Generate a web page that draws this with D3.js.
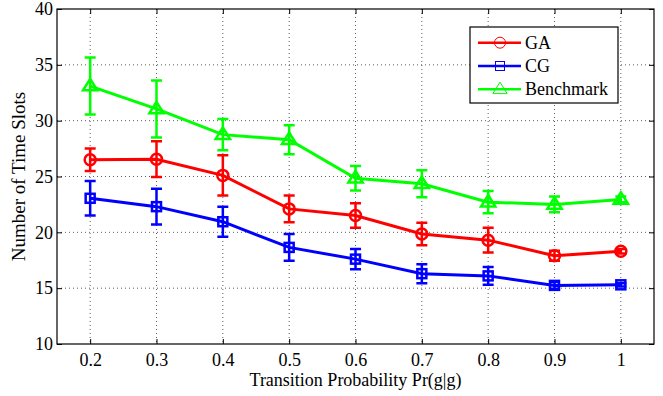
<!DOCTYPE html>
<html>
<head>
<meta charset="utf-8">
<script src="https://cdn.jsdelivr.net/npm/d3@7"></script>
<style>
  body { margin: 0; background: #fff; }
</style>
</head>
<body>
<svg id="mysvg"></svg>
<script>
const probs = [0.2, 0.3, 0.4, 0.5, 0.6, 0.7, 0.8, 0.9, 1.0];
const gaMean = [26.5, 26.55, 25.1, 22.1, 21.5, 19.85, 19.3, 17.9, 18.3];
const gaErr = [1.0, 1.6, 1.8, 1.2, 1.1, 1.0, 1.1, 0.45, 0.2];
const cgMean = [23.05, 22.3, 20.95, 18.65, 17.6, 16.3, 16.1, 15.25, 15.3];
const cgErr = [1.55, 1.6, 1.35, 1.2, 0.9, 0.85, 0.8, 0.3, 0.15];
const bmMean = [33.1, 31.05, 28.75, 28.3, 24.85, 24.35, 22.7, 22.5, 22.95];
const bmErr = [2.55, 2.55, 1.4, 1.3, 1.1, 1.2, 1.0, 0.7, 0.25];
const yTicks = [10, 15, 20, 25, 30, 35, 40];

const series = [
  { name: "GA", color: "#ff0000", marker: "circle", mean: gaMean, err: gaErr },
  { name: "CG", color: "#0000ff", marker: "square", mean: cgMean, err: cgErr },
  { name: "Benchmark", color: "#00ff00", marker: "triangle", mean: bmMean, err: bmErr }
];

const FONT = "'Liberation Serif', 'Times New Roman', 'DejaVu Serif', serif";
const width = 663, height = 396;
const margin = { top: 9, right: 9, bottom: 52, left: 57 };
const innerWidth = width - margin.left - margin.right;
const innerHeight = height - margin.top - margin.bottom;

const svg = d3.select("#mysvg").attr("width", width).attr("height", height);
const g = svg.append("g").attr("transform", `translate(${margin.left},${margin.top})`);

const x_Scale = d3.scaleLinear().domain([0.15, 1.05]).range([0, innerWidth]);
const y_Scale = d3.scaleLinear().domain([10, 40]).range([innerHeight, 0]);

// dotted grid
g.selectAll(".vgrid").data(probs).join("line").attr("class", "vgrid")
  .attr("x1", d => x_Scale(d)).attr("x2", d => x_Scale(d))
  .attr("y1", 0).attr("y2", innerHeight)
  .attr("stroke", "#333").attr("stroke-width", 0.8).attr("stroke-dasharray", "1,3");
g.selectAll(".hgrid").data(yTicks.slice(1, -1)).join("line").attr("class", "hgrid")
  .attr("x1", 0).attr("x2", innerWidth)
  .attr("y1", d => y_Scale(d)).attr("y2", d => y_Scale(d))
  .attr("stroke", "#333").attr("stroke-width", 0.8).attr("stroke-dasharray", "1,3");

// axes with inward ticks (box style)
const axisStyle = sel => {
  sel.attr("font-family", FONT).attr("font-size", 18);
  sel.select(".domain").remove();
  sel.selectAll("line").attr("stroke", "#000");
  sel.selectAll("text").style("font-family", FONT).style("font-size", "18px").attr("fill", "#000");
};
const noLabels = sel => sel.selectAll("text").remove();

g.append("g").attr("transform", `translate(0,${innerHeight})`)
  .call(d3.axisBottom(x_Scale).tickValues(probs).tickSizeInner(-5).tickSizeOuter(0).tickPadding(9)
    .tickFormat(d => d === 1 ? "1" : d3.format(".1f")(d)))
  .call(axisStyle);
g.append("g")
  .call(d3.axisTop(x_Scale).tickValues(probs).tickSizeInner(-5).tickSizeOuter(0))
  .call(axisStyle).call(noLabels);
g.append("g")
  .call(d3.axisLeft(y_Scale).tickValues(yTicks).tickSizeInner(-5).tickSizeOuter(0).tickPadding(4))
  .call(axisStyle);
g.append("g").attr("transform", `translate(${innerWidth},0)`)
  .call(d3.axisRight(y_Scale).tickValues(yTicks).tickSizeInner(-5).tickSizeOuter(0))
  .call(axisStyle).call(noLabels);
g.append("rect").attr("width", innerWidth).attr("height", innerHeight)
  .attr("fill", "none").attr("stroke", "#000").attr("stroke-width", 1.2);

// markers
const drawMarker = (sel, type, size) => {
  if (type === "circle") {
    sel.append("circle").attr("r", size / 2);
  } else if (type === "square") {
    sel.append("rect").attr("x", -size / 2 + 1).attr("y", -size / 2 + 1).attr("width", size - 2).attr("height", size - 2);
  } else {
    const s = size * 0.65;
    sel.append("path").attr("d", `M0,${-s}L${s},${s * 0.6}L${-s},${s * 0.6}Z`);
  }
};

const line = d3.line().x(d => x_Scale(d.p)).y(d => y_Scale(d.v));

series.forEach(s => {
  const data = probs.map((p, i) => ({ p: p, v: s.mean[i], e: s.err[i] }));
  const sg = g.append("g").attr("stroke", s.color).attr("fill", "none").attr("stroke-width", 2.5);
  // error bars
  sg.selectAll(".eb").data(data).join("path").attr("class", "eb")
    .attr("d", d => {
      const cx = x_Scale(d.p), y1 = y_Scale(d.v + d.e), y2 = y_Scale(d.v - d.e), c = 5.5;
      return `M${cx},${y1}V${y2}M${cx - c},${y1}H${cx + c}M${cx - c},${y2}H${cx + c}`;
    });
  sg.append("path").datum(data).attr("d", line).attr("stroke-width", 3);
  sg.selectAll(".mk").data(data).join("g").attr("class", "mk")
    .attr("transform", d => `translate(${x_Scale(d.p)},${y_Scale(d.v)})`)
    .each(function () { drawMarker(d3.select(this), s.marker, 11); });
});

// axis titles
svg.append("text").attr("x", margin.left + innerWidth / 2).attr("y", 386)
  .attr("text-anchor", "middle").style("font-family", FONT).style("font-size", "18px")
  .text("Transition Probability Pr(g|g)");
svg.append("text").attr("transform", `translate(25,${margin.top + innerHeight / 2}) rotate(-90)`)
  .attr("text-anchor", "middle").style("font-family", FONT).style("font-size", "19px")
  .text("Number of Time Slots");

// legend
const legend = svg.append("g").attr("transform", "translate(470,27)");
legend.append("rect").attr("width", 148).attr("height", 76)
  .attr("fill", "#fff").attr("stroke", "#000").attr("stroke-width", 1.2);
const items = legend.selectAll(".legend").data(series).join("g").attr("class", "legend")
  .attr("transform", (_, i) => `translate(0,${15.7 + i * 23.3})`);
items.append("line").attr("x1", 8).attr("x2", 51).attr("stroke", d => d.color).attr("stroke-width", 2.5);
items.append("g").attr("transform", "translate(30,0)")
  .attr("stroke", d => d.color).attr("fill", "none").attr("stroke-width", 1)
  .each(function (d) { drawMarker(d3.select(this), d.marker, 11); });
items.append("text").attr("x", 55).attr("y", 6).style("font-family", FONT).style("font-size", "18px")
  .text(d => d.name);
</script>
</body>
</html>
